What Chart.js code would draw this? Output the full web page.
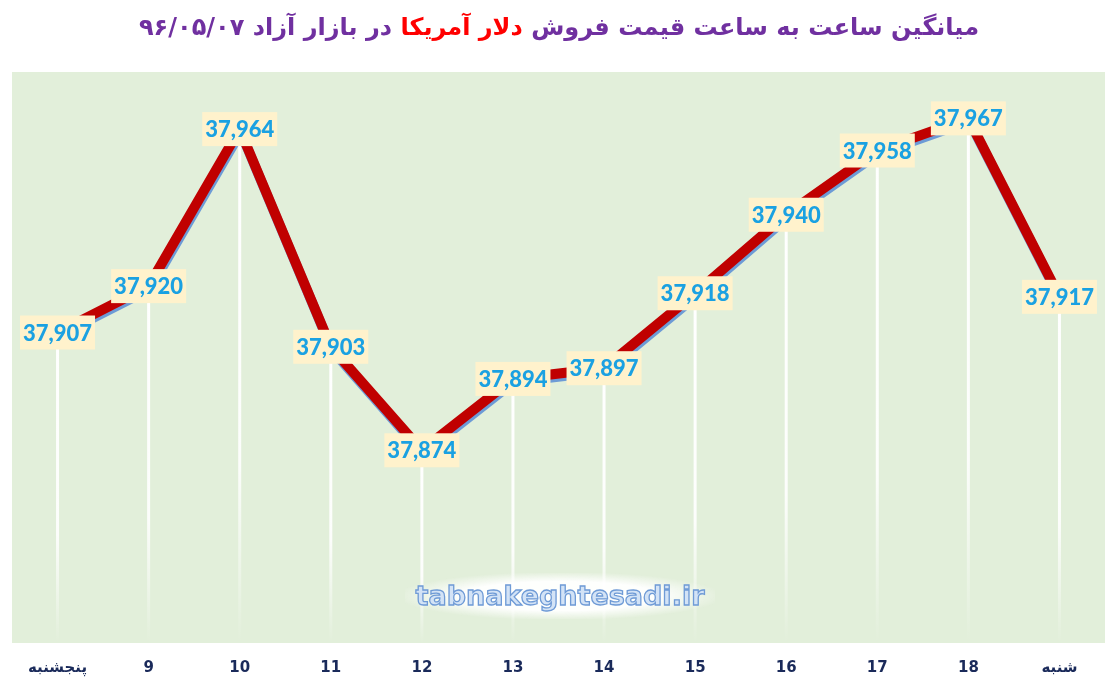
<!DOCTYPE html>
<html>
<head>
<meta charset="utf-8">
<script src="https://cdn.jsdelivr.net/npm/chart.js@4"></script>
<style>
  html,body{margin:0;padding:0;background:#fff;width:1118px;height:688px;overflow:hidden;}
  #wrap{position:relative;width:1118px;height:688px;}
  #c{position:absolute;left:0;top:0;}
  #title{position:absolute;left:0;top:13px;width:1118px;text-align:center;direction:rtl;
    font-family:"DejaVu Sans",sans-serif;font-weight:bold;font-size:24px;color:#7030a0;white-space:nowrap;}
  #title .red{color:#ff0000;}
  #wm{position:absolute;left:405px;top:573px;width:310px;height:46px;line-height:46px;text-align:center;
    font-family:"DejaVu Sans",sans-serif;font-weight:bold;font-size:27px;color:#d3e3f6;
    -webkit-text-stroke:1.3px #6f9bd6;
    background:radial-gradient(ellipse at center, rgba(255,255,255,0.95) 45%, rgba(255,255,255,0) 75%);}
</style>
</head>
<body>
<div id="wrap">
  <canvas id="c" width="1118" height="688"></canvas>
  <div id="title">میانگین ساعت به ساعت قیمت فروش <span class="red">دلار آمریکا</span> در بازار آزاد ۹۶/۰۵/۰۷</div>
  <div id="wm">tabnakeghtesadi.ir</div>
</div>
<script>
const categories = ["پنجشنبه","9","10","11","12","13","14","15","16","17","18","شنبه"];
const prices = [37907, 37920, 37964, 37903, 37874, 37894, 37897, 37918, 37940, 37958, 37967, 37917];
const yMin = 37820;
const yMax = 37980;

const bgPlugin = {
  id:'bg',
  beforeDraw(chart){
    const {ctx, chartArea:a} = chart;
    ctx.save();
    ctx.fillStyle = '#e2efda';
    ctx.fillRect(a.left, a.top, a.right-a.left, a.bottom-a.top);
    ctx.restore();
  },
  beforeDatasetsDraw(chart){
    const {ctx, chartArea:a} = chart;
    const meta = chart.getDatasetMeta(0);
    ctx.save();
    meta.data.forEach(p=>{
      const g = ctx.createLinearGradient(0, p.y, 0, a.bottom);
      g.addColorStop(0,'rgba(255,255,255,1)');
      g.addColorStop(0.65,'rgba(255,255,255,0.9)');
      g.addColorStop(1,'rgba(255,255,255,0)');
      ctx.strokeStyle = g;
      ctx.lineWidth = 3;
      ctx.beginPath();
      ctx.moveTo(p.x, p.y);
      ctx.lineTo(p.x, a.bottom);
      ctx.stroke();
    });
    ctx.restore();
  },
  beforeDatasetDraw(chart){
    const ctx = chart.ctx;
    ctx.save();
    ctx.shadowColor = '#6d9bd6';
    ctx.shadowOffsetX = 1;
    ctx.shadowOffsetY = 3;
    ctx.shadowBlur = 0;
  },
  afterDatasetDraw(chart){
    chart.ctx.restore();
  },
  afterDatasetsDraw(chart){
    const ctx = chart.ctx;
    const meta = chart.getDatasetMeta(0);
    ctx.save();
    ctx.font = '900 22px Lato, "Open Sans", sans-serif';
    ctx.textAlign = 'center';
    ctx.textBaseline = 'middle';
    meta.data.forEach((p,i)=>{
      const txt = prices[i].toLocaleString('en-US');
      const w = 75, h = 34;
      ctx.fillStyle = '#fff2cc';
      ctx.fillRect(p.x - w/2, p.y - h/2, w, h);
      ctx.fillStyle = '#1ba1e2';
      ctx.fillText(txt, p.x, p.y + 1);
    });
    ctx.restore();
  }
};

new Chart(document.getElementById('c'), {
  type:'line',
  data:{
    labels: categories,
    datasets:[{
      data: prices,
      borderColor:'#c00000',
      borderWidth:10,
      pointRadius:0,
      tension:0,
      borderJoinStyle:'miter',
      fill:false
    }]
  },
  options:{
    responsive:false,
    animation:false,
    devicePixelRatio:1,
    layout:{padding:{left:12,right:13,top:72,bottom:0}},
    plugins:{legend:{display:false},tooltip:{enabled:false},title:{display:false}},
    scales:{
      x:{
        offset:true,
        grid:{display:false},
        border:{display:false},
        afterFit(s){ s.height = 45; },
        ticks:{
          padding:8,
          color:'#1a2a5a',
          font:{family:'"DejaVu Sans", sans-serif',size:15,weight:'bold'},
          maxRotation:0,
          autoSkip:false
        }
      },
      y:{display:false,min:yMin,max:yMax}
    }
  },
  plugins:[bgPlugin]
});
</script>
</body>
</html>
